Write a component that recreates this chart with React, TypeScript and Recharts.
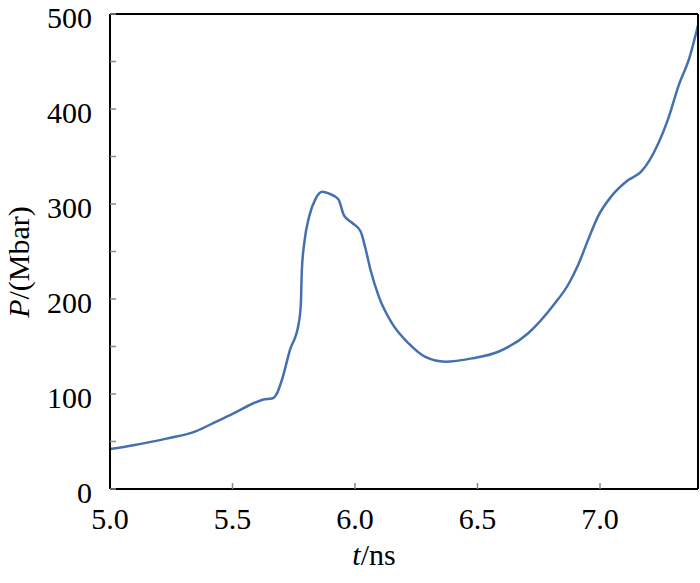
import React from "react";
import { LineChart, Line, XAxis, YAxis } from "recharts";

// t (ns) and P (Mbar)
const times = [
  5.0, 5.095, 5.23, 5.352, 5.434, 5.515, 5.583, 5.623, 5.664, 5.684, 5.702,
  5.734, 5.77, 5.779, 5.783, 5.793, 5.813, 5.84, 5.867, 5.894, 5.932, 5.955,
  5.989, 6.023, 6.041, 6.064, 6.098, 6.152, 6.22, 6.287, 6.369, 6.477, 6.585,
  6.707, 6.816, 6.87, 6.911, 6.951, 6.992, 7.046, 7.114, 7.168, 7.202, 7.276,
  7.324, 7.364, 7.4,
];
const pressure = [
  42, 46, 53, 61, 71, 81, 90, 94, 95.5, 102, 115, 146, 174, 195, 230, 259, 287,
  306, 313, 311, 305, 288, 280, 271, 255, 230, 202, 174, 153, 139, 134, 137.5,
  144.5, 164, 195.5, 215, 236, 262, 287, 308, 325, 334, 346, 388, 427, 453, 488,
];

const xTicks = [5.0, 5.5, 6.0, 6.5, 7.0];
const yTicks = [0, 50, 100, 150, 200, 250, 300, 350, 400, 450, 500];

const data = times.map((t, i) => ({ t, p: pressure[i] }));

const FONT = "'Liberation Serif', 'Times New Roman', serif";
const tickStyle = { fontSize: 30, fill: "#000", fontFamily: FONT };
const tickLine = { stroke: "#8a8a8a", strokeWidth: 1.5 };
const frame = { stroke: "#000", strokeWidth: 2 };

function XLabel(props: any) {
  const vb = props.viewBox || {};
  return (
    <text
      x={vb.x + 264}
      y={vb.y + 76}
      textAnchor="middle"
      fontSize={30}
      fontFamily={FONT}
      fill="#000"
    >
      <tspan fontStyle="italic">t</tspan>
      <tspan>/ns</tspan>
    </text>
  );
}

function YLabel() {
  return (
    <text
      x={29}
      y={262}
      transform="rotate(-90, 29, 262)"
      textAnchor="middle"
      fontSize={30}
      fontFamily={FONT}
      fill="#000"
    >
      <tspan fontStyle="italic">P</tspan>
      <tspan>/(Mbar)</tspan>
    </text>
  );
}

export default function App() {
  return (
    <div style={{ position: "absolute", left: 0, top: 0, width: 700, height: 583, background: "#fff" }}>
      <LineChart
        width={700}
        height={583}
        data={data}
        margin={{ top: 13, right: 1, left: 0, bottom: 0 }}
      >
        <XAxis
          xAxisId="b"
          dataKey="t"
          type="number"
          domain={[5.0, 7.4]}
          ticks={xTicks}
          tickFormatter={(v: number) => v.toFixed(1)}
          allowDataOverflow
          height={94}
          axisLine={frame}
          tickLine={tickLine}
          tickSize={-6}
          tickMargin={25}
          tick={tickStyle}
          label={<XLabel />}
        />
        <XAxis
          xAxisId="top"
          orientation="top"
          dataKey="t"
          type="number"
          domain={[5.0, 7.4]}
          ticks={xTicks}
          allowDataOverflow
          height={1}
          axisLine={frame}
          tickLine={tickLine}
          tickSize={-6}
          tick={false}
        />
        <YAxis
          yAxisId="l"
          type="number"
          domain={[0, 500]}
          ticks={yTicks}
          interval={0}
          tickFormatter={(v: number) => (v % 100 === 0 ? String(v) : "")}
          width={110}
          axisLine={frame}
          tickLine={tickLine}
          tickSize={-6}
          tickMargin={24}
          tick={{ ...tickStyle, dy: 3 }}
          label={<YLabel />}
        />
        <YAxis
          yAxisId="r"
          orientation="right"
          type="number"
          domain={[0, 500]}
          ticks={yTicks}
          interval={0}
          width={1}
          axisLine={frame}
          tickLine={tickLine}
          tickSize={-6}
          tick={false}
        />
        <Line
          xAxisId="b"
          yAxisId="l"
          type="monotone"
          dataKey="p"
          stroke="#4470b0"
          strokeWidth={2.5}
          dot={false}
          isAnimationActive={false}
        />
      </LineChart>
    </div>
  );
}
